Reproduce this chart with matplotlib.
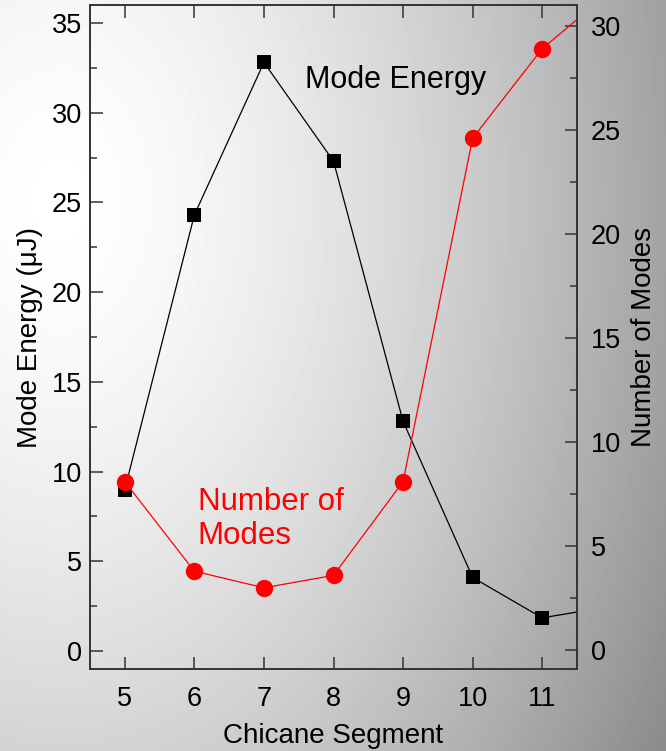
import numpy as np
import matplotlib.pyplot as plt
from matplotlib.ticker import MultipleLocator

plt.rcParams['font.family'] = ['Liberation Sans', 'DejaVu Sans']

segments = [5, 6, 7, 8, 9, 10, 11, 12]
mode_energy = [9.0, 24.3, 32.8, 27.3, 12.8, 4.1, 1.85, 2.5]
num_modes = [8.1, 3.8, 3.0, 3.6, 8.1, 24.6, 28.9, 31.7]

W, H = 666, 751
fig = plt.figure(figsize=(W / 100, H / 100), dpi=100)

# grey backdrop, lightest toward the upper left
yy, xx = np.mgrid[0:H, 0:W]
dist = np.hypot(xx - 60, (yy - 200) / 1.5)
shade = np.clip(255 - 0.0062 * dist ** 1.5, 0, 255) / 255
fig.figimage(shade, cmap='gray', vmin=0, vmax=1, origin='upper', zorder=-10)

ax = fig.add_axes([90 / W, 82 / H, 487 / W, 664 / H])
ax.set_facecolor('none')
ax.plot(segments, mode_energy, color='black', lw=0.9, marker='s', ms=10, mew=0)
ax.set_xlim(4.5, 11.5)
ax.set_ylim(-1, 36)
ax.set_xticks(range(5, 12))
ax.set_yticks(range(0, 36, 5))
ax.yaxis.set_minor_locator(MultipleLocator(2.5))
ax.tick_params(which='both', direction='in', top=True, right=False,
               labelsize=19.5, color='#333333', width=1.1)
ax.tick_params(which='major', length=9)
ax.tick_params(which='minor', length=5)
ax.tick_params(axis='x', pad=12)
ax.tick_params(axis='y', pad=6)
ax.set_xlabel('Chicane Segment', fontsize=20, labelpad=8)
ax.set_ylabel('Mode Energy (\u03bcJ)', fontsize=20, labelpad=6)

ax2 = ax.twinx()
ax2.plot(segments, num_modes, color='red', lw=0.9, marker='o', ms=12.5, mew=0)
ax2.set_ylim(-0.9, 31)
ax2.set_yticks(range(0, 31, 5))
ax2.yaxis.set_minor_locator(MultipleLocator(2.5))
ax2.tick_params(which='both', direction='in', labelsize=19.5,
                color='#333333', width=1.1, pad=10)
ax2.tick_params(which='major', length=9)
ax2.tick_params(which='minor', length=5)
ax2.set_ylabel('Number of Modes', fontsize=20, labelpad=7)

for a in (ax, ax2):
    for sp in a.spines.values():
        sp.set_color('#333333')
        sp.set_linewidth(1.2)

ax.text(7.59, 31.8, 'Mode Energy', fontsize=22, va='center', ha='left')
ax.text(6.05, 7.36, 'Number of\nModes', color='red', fontsize=22.5,
        va='center', ha='left')

fig.savefig('out.png', dpi=100)
